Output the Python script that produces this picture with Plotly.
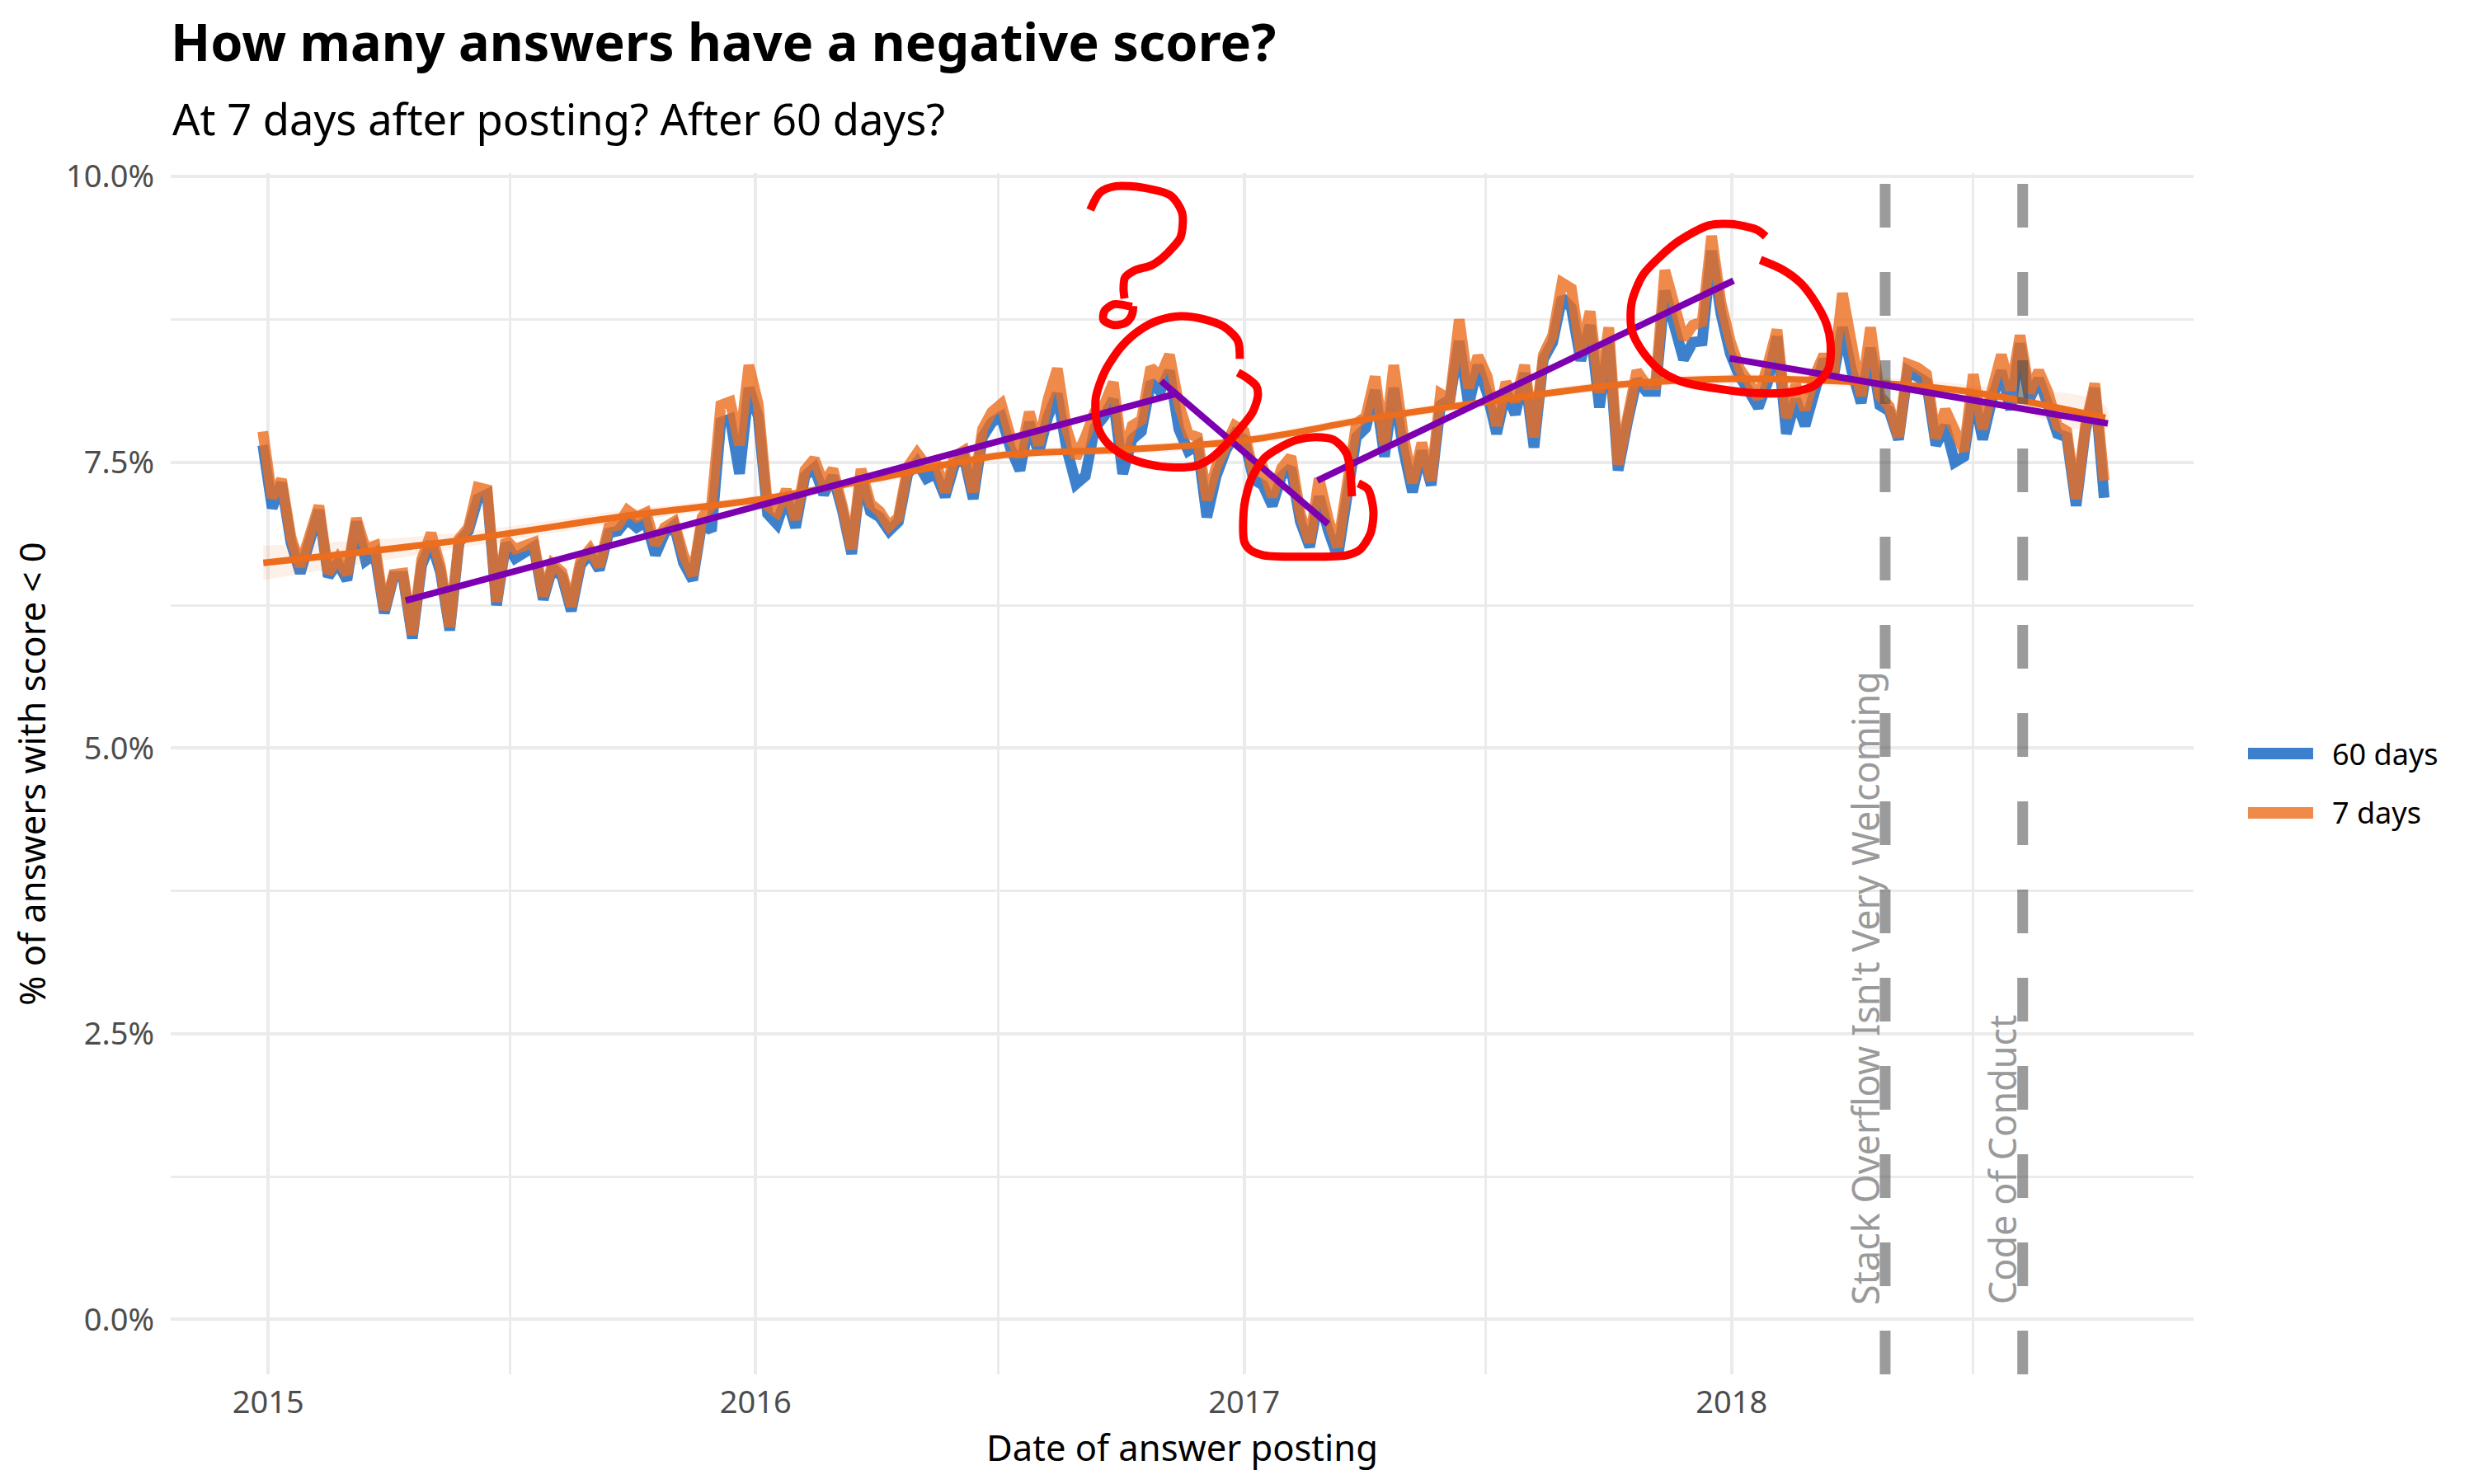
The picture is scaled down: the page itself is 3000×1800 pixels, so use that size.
import numpy as np
import pandas as pd
import plotly.graph_objects as go

# ---------------- data ----------------
week_start = "2014-12-28"
n_weeks = 198
dates = pd.date_range(week_start, periods=n_weeks, freq="7D")

pct_7_days = [
    7.77, 7.19, 7.35, 6.85, 6.59, 6.88, 7.12, 6.53, 6.66, 6.52, 7.01, 6.74, 6.77, 6.21, 6.52, 6.53, 5.99,
    6.65, 6.88, 6.59, 6.06, 6.83, 6.93, 7.28, 7.26, 6.28, 6.82, 6.74, 6.77, 6.80, 6.33, 6.61, 6.54, 6.24,
    6.64, 6.74, 6.59, 6.93, 6.95, 7.08, 7.02,
    7.06, 6.78, 6.93, 6.98, 6.69, 6.51, 7.02, 7.12, 8.00, 8.03, 7.65, 8.35, 8.01, 7.12, 7.06, 7.26, 7.00,
    7.43, 7.53, 7.31, 7.44, 7.12, 6.74, 7.44, 7.14, 7.07, 6.94, 7.02, 7.46, 7.58, 7.47, 7.50, 7.24, 7.55,
    7.60, 7.24, 7.79, 7.94, 8.01, 7.72,
    7.55, 7.94, 7.65, 8.05, 8.32, 7.79, 7.54, 7.72, 7.94, 8.00, 8.20, 7.54, 7.82, 7.87, 8.33, 8.25, 8.44,
    8.01, 7.75, 7.72, 7.17, 7.46, 7.67, 7.82, 7.77, 7.40, 7.45, 7.20, 7.45, 7.55, 7.05, 6.80, 7.36, 7.00,
    6.76, 7.30, 7.84, 7.90, 8.25,
    7.65, 8.35, 7.75, 7.32, 7.67, 7.34, 8.10, 8.05, 8.75, 8.15, 8.43, 8.25, 7.82, 8.20, 8.03, 8.35, 7.72,
    8.44, 8.61, 9.07, 9.02, 8.47, 8.82, 8.11, 8.68, 7.48, 7.89, 8.30, 8.18, 8.18, 9.18, 8.85, 8.58, 8.70,
    8.73, 9.48, 8.90, 8.56, 8.32,
    8.20, 8.06, 8.35, 8.66, 7.89, 8.18, 7.96, 8.25, 8.44, 8.25, 8.98, 8.49, 8.08, 8.68, 8.08, 7.99, 7.72,
    8.36, 8.33, 8.27, 7.71, 7.96, 7.75, 7.60, 8.27, 7.79, 8.13, 8.44, 8.13, 8.61, 8.11, 8.30, 8.11, 7.82,
    7.77, 7.18, 7.82, 8.19, 7.34,
]

pct_60_days = [
    7.65, 7.10, 7.32, 6.80, 6.53, 6.82, 7.08, 6.50, 6.62, 6.47, 6.98, 6.64, 6.70, 6.18, 6.50, 6.50, 5.96,
    6.60, 6.80, 6.54, 6.03, 6.80, 6.90, 7.18, 7.22, 6.25, 6.79, 6.66, 6.72, 6.76, 6.30, 6.58, 6.50, 6.20,
    6.60, 6.70, 6.56, 6.88, 6.90, 7.00, 6.93,
    6.98, 6.69, 6.88, 6.95, 6.62, 6.47, 6.98, 6.90, 7.85, 7.88, 7.40, 8.15, 7.90, 7.05, 6.96, 7.20, 6.93,
    7.38, 7.45, 7.22, 7.38, 7.08, 6.70, 7.38, 7.07, 7.02, 6.90, 6.98, 7.40, 7.50, 7.36, 7.40, 7.20, 7.48,
    7.55, 7.18, 7.72, 7.85, 7.90, 7.62,
    7.43, 7.85, 7.58, 7.90, 8.10, 7.62, 7.31, 7.38, 7.80, 7.90, 8.05, 7.40, 7.70, 7.77, 8.20, 8.12, 8.30,
    7.79, 7.60, 7.65, 7.02, 7.38, 7.60, 7.75, 7.70, 7.35, 7.30, 7.12, 7.38, 7.45, 6.98, 6.76, 7.20, 6.90,
    6.67, 7.20, 7.72, 7.80, 8.13,
    7.55, 8.15, 7.62, 7.24, 7.60, 7.30, 8.00, 8.05, 8.56, 8.00, 8.35, 8.10, 7.75, 8.12, 7.92, 8.28, 7.63,
    8.40, 8.55, 8.94, 8.85, 8.39, 8.70, 7.98, 8.55, 7.43, 7.85, 8.22, 8.12, 8.12, 9.00, 8.65, 8.40, 8.55,
    8.56, 9.35, 8.80, 8.45, 8.25,
    8.12, 7.98, 8.20, 8.60, 7.75, 8.05, 7.82, 8.15, 8.40, 8.23, 8.68, 8.30, 8.02, 8.50, 8.00, 7.95, 7.70,
    8.30, 8.25, 8.20, 7.65, 7.82, 7.50, 7.55, 8.12, 7.70, 8.05, 8.30, 7.96, 8.54, 8.05, 8.23, 8.00, 7.75,
    7.72, 7.12, 7.78, 8.15, 7.19,
]

# smoothed trend, fractional years
smooth_year = [2014.99, 2015.38, 2015.75, 2016.0, 2016.25, 2016.5, 2016.75, 2017.0, 2017.27, 2017.5,
               2017.77, 2018.0, 2018.31, 2018.5, 2018.767]
smooth_val = [6.62, 6.81, 7.04, 7.17, 7.36, 7.56, 7.61, 7.69, 7.89, 8.03, 8.18, 8.23, 8.19, 8.11, 7.89]
smooth_lo = [6.47, 6.74, 6.99, 7.13, 7.32, 7.52, 7.57, 7.65, 7.85, 7.99, 8.14, 8.19, 8.14, 8.05, 7.78]
smooth_hi = [6.77, 6.88, 7.09, 7.21, 7.40, 7.60, 7.65, 7.73, 7.93, 8.07, 8.22, 8.27, 8.24, 8.17, 8.00]

event_dates = ["2018-04-26", "2018-08-07"]
event_labels = ["Stack Overflow Isn't Very Welcoming", "Code of Conduct"]

# hand-drawn purple trend segments: (year0, val0, year1, val1)
purple_segments = [
    (2015.282, 6.29, 2016.860, 8.10),
    (2016.830, 8.21, 2017.172, 6.96),
    (2017.150, 7.34, 2018.004, 9.09),
    (2017.996, 8.41, 2018.772, 7.84),
]

# hand-drawn red marks (fractional year, percent)
qmark_year = [2016.685, 2016.705, 2016.737, 2016.795, 2016.850, 2016.873, 2016.870, 2016.854, 2016.832,
              2016.810, 2016.775, 2016.756, 2016.753, 2016.755]
qmark_val = [9.708, 9.860, 9.915, 9.901, 9.832, 9.680, 9.473, 9.380, 9.286, 9.223, 9.177, 9.115, 9.019, 8.934]
qdot_year = [2016.770, 2016.733, 2016.714, 2016.712, 2016.733, 2016.758, 2016.770, 2016.773]
qdot_val = [8.860, 8.882, 8.824, 8.745, 8.701, 8.723, 8.788, 8.867]
circle1_year = [2016.991, 2016.987, 2016.960, 2016.915, 2016.870, 2016.825, 2016.787, 2016.749, 2016.715,
                2016.696, 2016.700, 2016.719, 2016.757, 2016.802, 2016.848, 2016.900, 2016.931, 2016.961,
                2016.991, 2017.017, 2017.028, 2017.025, 2017.006, 2016.987]
circle1_val = [8.405, 8.562, 8.682, 8.754, 8.778, 8.742, 8.658, 8.514, 8.297, 8.057, 7.816, 7.672, 7.552,
               7.484, 7.456, 7.468, 7.532, 7.648, 7.792, 7.937, 8.081, 8.165, 8.237, 8.285]
circle2_year = [2017.221, 2017.210, 2017.184, 2017.146, 2017.108, 2017.071, 2017.042, 2017.015, 2017.000,
                2017.000, 2017.012, 2017.040, 2017.124, 2017.209, 2017.237, 2017.259, 2017.265, 2017.254,
                2017.234]
circle2_val = [7.203, 7.576, 7.696, 7.720, 7.696, 7.624, 7.540, 7.359, 7.119, 6.806, 6.734, 6.686, 6.674,
               6.686, 6.734, 6.878, 7.071, 7.263, 7.316]
circle3_year = [2018.070, 2018.051, 2017.999, 2017.953, 2017.893, 2017.855, 2017.818, 2017.795, 2017.795,
                2017.818, 2017.855, 2017.901, 2017.976, 2018.051, 2018.127, 2018.172, 2018.199, 2018.203,
                2018.195, 2018.172, 2018.142, 2018.104, 2018.059]
circle3_val = [9.476, 9.536, 9.584, 9.573, 9.440, 9.307, 9.139, 8.898, 8.658, 8.465, 8.297, 8.201, 8.141,
               8.105, 8.117, 8.177, 8.321, 8.538, 8.706, 8.898, 9.067, 9.187, 9.271]

# ---------------- styling ----------------
FONT = "Noto Sans"
BLUE = "rgba(13,98,193,0.8)"
BLUE_KEY = "#3C80CD"
ORANGE = "rgba(236,109,30,0.8)"
ORANGE_KEY = "#F08A4B"
SMOOTH = "#EC6D1E"
PURPLE = "#7D00B0"
RED = "#FF0000"
GRID = "#EBEBEB"
Y_RANGE = [-0.48, 10.03]
X_RANGE = ["2014-10-20", "2018-12-13"]


def yr(f):
    y = int(np.floor(f))
    s = pd.Timestamp(year=y, month=1, day=1)
    e = pd.Timestamp(year=y + 1, month=1, day=1)
    return s + (e - s) * (f - y)


fig = go.Figure()

fig.add_trace(go.Scatter(x=dates, y=pct_60_days, mode="lines", name="60 days",
                         line=dict(color=BLUE, width=13), showlegend=False))
fig.add_trace(go.Scatter(x=dates, y=pct_7_days, mode="lines", name="7 days",
                         line=dict(color=ORANGE, width=13), showlegend=False))

sx = [yr(v) for v in smooth_year]
fig.add_trace(go.Scatter(x=sx + sx[::-1], y=smooth_hi + smooth_lo[::-1], fill="toself",
                         fillcolor="rgba(236,109,30,0.10)", line=dict(width=0, shape="spline"),
                         mode="lines", showlegend=False, hoverinfo="skip"))
fig.add_trace(go.Scatter(x=sx, y=smooth_val, mode="lines", line=dict(color=SMOOTH, width=8, shape="spline"),
                         showlegend=False))

for d in event_dates:
    fig.add_trace(go.Scatter(x=[d, d], y=Y_RANGE, mode="lines", showlegend=False,
                             line=dict(color="rgba(80,80,80,0.57)", width=13, dash="53px,54px")))

for (x0, y0, x1, y1) in purple_segments:
    fig.add_trace(go.Scatter(x=[yr(x0), yr(x1)], y=[y0, y1], mode="lines", showlegend=False,
                             line=dict(color=PURPLE, width=8)))

for xs, ys in [(qmark_year, qmark_val), (qdot_year, qdot_val), (circle1_year, circle1_val),
               (circle2_year, circle2_val), (circle3_year, circle3_val)]:
    fig.add_trace(go.Scatter(x=[yr(v) for v in xs], y=ys, mode="lines", showlegend=False,
                             line=dict(color=RED, width=10, shape="spline", smoothing=0.8)))

annotations = []
for d, t in zip(event_dates, event_labels):
    annotations.append(dict(x=d, y=0.115, xref="x", yref="y", text=t, textangle=-90, showarrow=False,
                            xanchor="center", yanchor="bottom", xshift=-25,
                            font=dict(family=FONT, size=45, color="#9A9A9A")))

# subtitle
annotations.append(dict(x=0, y=1.0457, xref="paper", yref="paper", text="At 7 days after posting? After 60 days?",
                        showarrow=False, xanchor="left", yanchor="middle",
                        font=dict(family=FONT, size=52.5, color="#000000")))

# manual legend
legend_items = [("60 days", BLUE_KEY, 0.5168), ("7 days", ORANGE_KEY, 0.4674)]
shapes = []
for name, col, ly in legend_items:
    shapes.append(dict(type="line", xref="paper", yref="paper", x0=1.0269, x1=1.0591, y0=ly, y1=ly,
                       line=dict(color=col, width=14)))
    annotations.append(dict(x=1.0677, y=ly, xref="paper", yref="paper", text=name, showarrow=False,
                            xanchor="left", yanchor="middle", font=dict(family=FONT, size=36, color="#000000")))

# page has an 8px body margin, so the figure is offset by 8px right/down
fig.update_layout(
    width=3000, height=1800,
    margin=dict(l=199, r=348, t=202, b=141),
    paper_bgcolor="white", plot_bgcolor="white",
    font=dict(family=FONT, color="#000000"),
    title=dict(text="<b>How many answers have a negative score?</b>", x=199 / 3000, xanchor="left",
               xref="container", y=0.9758, yref="container", yanchor="middle",
               font=dict(family=FONT, size=63, color="#000000")),
    showlegend=False,
    annotations=annotations,
    shapes=shapes,
)

fig.update_xaxes(
    type="date", range=X_RANGE, dtick="M12", tick0="2015-01-01", tickformat="%Y",
    showgrid=True, gridcolor=GRID, gridwidth=4, zeroline=False, showline=False, ticks="",
    tickfont=dict(family=FONT, size=38, color="#4D4D4D"), ticklabelstandoff=8,
    minor=dict(dtick="M6", tick0="2015-01-01", showgrid=True, gridcolor=GRID, gridwidth=2.5),
    title=dict(text="Date of answer posting", font=dict(family=FONT, size=43.5, color="#000000"), standoff=13),
    automargin=False,
)
fig.update_yaxes(
    range=Y_RANGE, dtick=2.5, tick0=0, tickformat=".1f", ticksuffix="%",
    showgrid=True, gridcolor=GRID, gridwidth=4, zeroline=False, showline=False, ticks="",
    tickfont=dict(family=FONT, size=38, color="#4D4D4D"), ticklabelstandoff=19,
    minor=dict(dtick=1.25, tick0=0, showgrid=True, gridcolor=GRID, gridwidth=2.5),
    title=dict(text="% of answers with score < 0", font=dict(family=FONT, size=43.5, color="#000000"), standoff=13),
    automargin=False,
)

fig.write_html("out.html")
